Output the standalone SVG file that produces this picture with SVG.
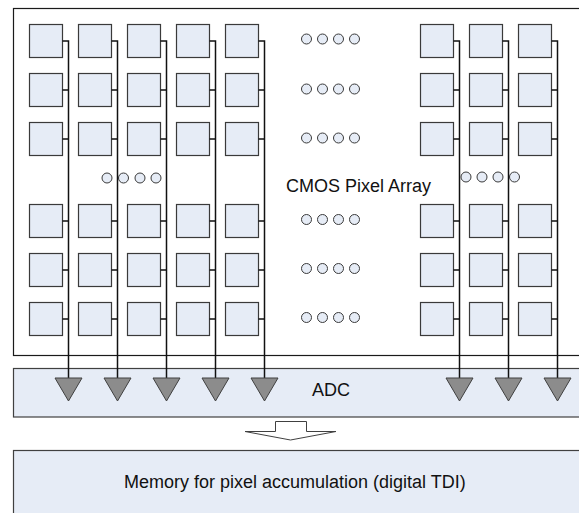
<svg xmlns="http://www.w3.org/2000/svg" xmlns:xlink="http://www.w3.org/1999/xlink" width="579" height="513" viewBox="0 0 579 513">
<style>
.frame{fill:#ffffff;stroke:#1a1a1a;stroke-width:1.2}
.band{fill:#e6ecf6;stroke:#404040;stroke-width:1.2}
.px{fill:#e6ecf6;stroke:#3a3a3a;stroke-width:1.2}
.dot{fill:#e6ecf6;stroke:#3a3a3a;stroke-width:1}
.wire{fill:none;stroke:#111111;stroke-width:1.5}
.tri{fill:#8c8c8c;stroke:#404040;stroke-width:1}
.blk{fill:#ffffff;stroke:#404040;stroke-width:1}
.lbl{font-family:"Liberation Sans",Arial,sans-serif;font-size:18px;fill:#111111}
</style>
<defs>
<rect id="box" width="33" height="33" class="px"/>
<path id="tr" d="M-13.5,378 L13.5,378 L0,401 Z" class="tri"/>
<circle id="dt" r="5" class="dot"/>
</defs>

<g id="pixel-array-frame">
<rect x="13.5" y="8.5" width="570" height="347" class="frame"/>
<text x="286" y="192" class="lbl">CMOS Pixel Array</text>
</g>

<g id="adc">
<rect x="13.5" y="368.5" width="570" height="48.5" class="band"/>
<text x="312" y="396" class="lbl">ADC</text>
</g>

<g id="memory">
<rect x="13.5" y="450.5" width="570" height="70" class="band"/>
<text x="124" y="488" class="lbl">Memory for pixel accumulation (digital TDI)</text>
</g>

<g id="transfer-arrow">
<path d="M275.5,421.5 L306.5,421.5 L306.5,431.5 L336,431.5 L290.5,440 L245,431.5 L275.5,431.5 Z" class="blk"/>
</g>

<g id="pixels">
<g id="col1"><use xlink:href="#box" x="29.5" y="24.5"/><use xlink:href="#box" x="29.5" y="73.5"/><use xlink:href="#box" x="29.5" y="122.5"/><use xlink:href="#box" x="29.5" y="204.5"/><use xlink:href="#box" x="29.5" y="253.5"/><use xlink:href="#box" x="29.5" y="302.5"/></g>
<g id="col2"><use xlink:href="#box" x="78.5" y="24.5"/><use xlink:href="#box" x="78.5" y="73.5"/><use xlink:href="#box" x="78.5" y="122.5"/><use xlink:href="#box" x="78.5" y="204.5"/><use xlink:href="#box" x="78.5" y="253.5"/><use xlink:href="#box" x="78.5" y="302.5"/></g>
<g id="col3"><use xlink:href="#box" x="127.5" y="24.5"/><use xlink:href="#box" x="127.5" y="73.5"/><use xlink:href="#box" x="127.5" y="122.5"/><use xlink:href="#box" x="127.5" y="204.5"/><use xlink:href="#box" x="127.5" y="253.5"/><use xlink:href="#box" x="127.5" y="302.5"/></g>
<g id="col4"><use xlink:href="#box" x="176.5" y="24.5"/><use xlink:href="#box" x="176.5" y="73.5"/><use xlink:href="#box" x="176.5" y="122.5"/><use xlink:href="#box" x="176.5" y="204.5"/><use xlink:href="#box" x="176.5" y="253.5"/><use xlink:href="#box" x="176.5" y="302.5"/></g>
<g id="col5"><use xlink:href="#box" x="225.5" y="24.5"/><use xlink:href="#box" x="225.5" y="73.5"/><use xlink:href="#box" x="225.5" y="122.5"/><use xlink:href="#box" x="225.5" y="204.5"/><use xlink:href="#box" x="225.5" y="253.5"/><use xlink:href="#box" x="225.5" y="302.5"/></g>
<g id="col6"><use xlink:href="#box" x="420.5" y="24.5"/><use xlink:href="#box" x="420.5" y="73.5"/><use xlink:href="#box" x="420.5" y="122.5"/><use xlink:href="#box" x="420.5" y="204.5"/><use xlink:href="#box" x="420.5" y="253.5"/><use xlink:href="#box" x="420.5" y="302.5"/></g>
<g id="col7"><use xlink:href="#box" x="469.5" y="24.5"/><use xlink:href="#box" x="469.5" y="73.5"/><use xlink:href="#box" x="469.5" y="122.5"/><use xlink:href="#box" x="469.5" y="204.5"/><use xlink:href="#box" x="469.5" y="253.5"/><use xlink:href="#box" x="469.5" y="302.5"/></g>
<g id="col8"><use xlink:href="#box" x="518.5" y="24.5"/><use xlink:href="#box" x="518.5" y="73.5"/><use xlink:href="#box" x="518.5" y="122.5"/><use xlink:href="#box" x="518.5" y="204.5"/><use xlink:href="#box" x="518.5" y="253.5"/><use xlink:href="#box" x="518.5" y="302.5"/></g>
</g>

<g id="ellipses">
<g><use xlink:href="#dt" x="306.5" y="39"/><use xlink:href="#dt" x="322.5" y="39"/><use xlink:href="#dt" x="338.5" y="39"/><use xlink:href="#dt" x="354.5" y="39"/></g>
<g><use xlink:href="#dt" x="306.5" y="89"/><use xlink:href="#dt" x="322.5" y="89"/><use xlink:href="#dt" x="338.5" y="89"/><use xlink:href="#dt" x="354.5" y="89"/></g>
<g><use xlink:href="#dt" x="306.5" y="138"/><use xlink:href="#dt" x="322.5" y="138"/><use xlink:href="#dt" x="338.5" y="138"/><use xlink:href="#dt" x="354.5" y="138"/></g>
<g><use xlink:href="#dt" x="306.5" y="219.5"/><use xlink:href="#dt" x="322.5" y="219.5"/><use xlink:href="#dt" x="338.5" y="219.5"/><use xlink:href="#dt" x="354.5" y="219.5"/></g>
<g><use xlink:href="#dt" x="306.5" y="268.5"/><use xlink:href="#dt" x="322.5" y="268.5"/><use xlink:href="#dt" x="338.5" y="268.5"/><use xlink:href="#dt" x="354.5" y="268.5"/></g>
<g><use xlink:href="#dt" x="306.5" y="317.5"/><use xlink:href="#dt" x="322.5" y="317.5"/><use xlink:href="#dt" x="338.5" y="317.5"/><use xlink:href="#dt" x="354.5" y="317.5"/></g>
<g><use xlink:href="#dt" x="107" y="178"/><use xlink:href="#dt" x="123.5" y="178"/><use xlink:href="#dt" x="140" y="178"/><use xlink:href="#dt" x="156" y="178"/></g>
<g><use xlink:href="#dt" x="466" y="177"/><use xlink:href="#dt" x="482" y="177"/><use xlink:href="#dt" x="498" y="177"/><use xlink:href="#dt" x="514.5" y="177"/></g>
</g>

<g id="connectors">
<path class="wire" d="M62.5,41H68.5V378 M62.5,90H68.5 M62.5,139H68.5 M62.5,221H68.5 M62.5,270H68.5 M62.5,319H68.5"/>
<path class="wire" d="M111.5,41H117.5V378 M111.5,90H117.5 M111.5,139H117.5 M111.5,221H117.5 M111.5,270H117.5 M111.5,319H117.5"/>
<path class="wire" d="M160.5,41H166.5V378 M160.5,90H166.5 M160.5,139H166.5 M160.5,221H166.5 M160.5,270H166.5 M160.5,319H166.5"/>
<path class="wire" d="M209.5,41H215.5V378 M209.5,90H215.5 M209.5,139H215.5 M209.5,221H215.5 M209.5,270H215.5 M209.5,319H215.5"/>
<path class="wire" d="M258.5,41H264.5V378 M258.5,90H264.5 M258.5,139H264.5 M258.5,221H264.5 M258.5,270H264.5 M258.5,319H264.5"/>
<path class="wire" d="M453.5,41H459.5V378 M453.5,90H459.5 M453.5,139H459.5 M453.5,221H459.5 M453.5,270H459.5 M453.5,319H459.5"/>
<path class="wire" d="M502.5,41H508.5V378 M502.5,90H508.5 M502.5,139H508.5 M502.5,221H508.5 M502.5,270H508.5 M502.5,319H508.5"/>
<path class="wire" d="M551.5,41H557.5V378 M551.5,90H557.5 M551.5,139H557.5 M551.5,221H557.5 M551.5,270H557.5 M551.5,319H557.5"/>
<use xlink:href="#tr" x="68.5"/>
<use xlink:href="#tr" x="117.5"/>
<use xlink:href="#tr" x="166.5"/>
<use xlink:href="#tr" x="215.5"/>
<use xlink:href="#tr" x="264.5"/>
<use xlink:href="#tr" x="459.5"/>
<use xlink:href="#tr" x="508.5"/>
<use xlink:href="#tr" x="557.5"/>
</g>
</svg>
